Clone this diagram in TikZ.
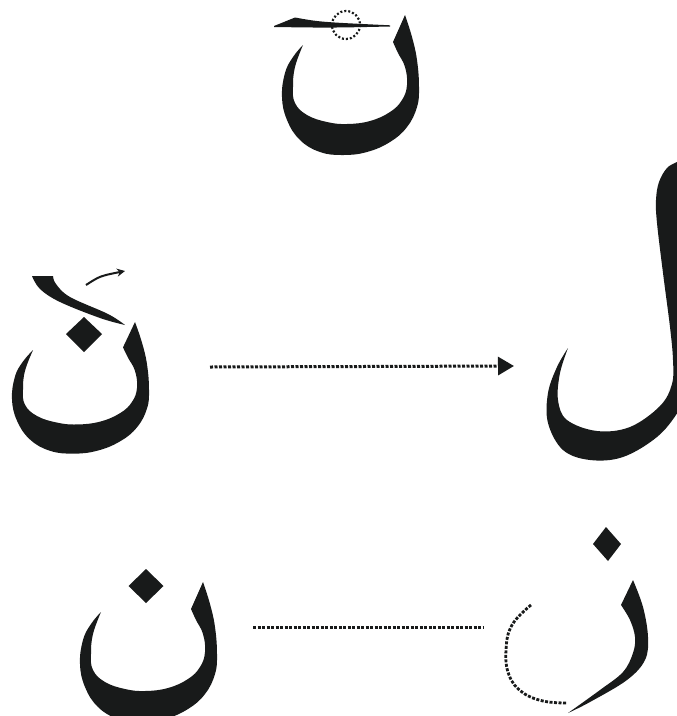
\documentclass[tikz,border=0pt]{standalone}
\usetikzlibrary{arrows.meta}
\definecolor{ink}{RGB}{24,26,26}
\tikzset{
  nun/.pic={
    \fill[ink] plot[smooth,tension=0.7] coordinates {(0,0)(7,22)(12,45)(14,72)(12,92)(2,112)(-15,127)(-38,137)(-62,140)(-85,137)(-105,125)(-118,105)(-123,82)(-120,58)(-112,42)(-102,30)}
      -- plot[smooth,tension=0.7] coordinates {(-102,30)(-110,52)(-112,72)(-110,88)(-98,100)(-78,107)(-58,109)(-35,106)(-15,97)(-3,85)(2,70)(0,52)(-7,38)(-12,27)} -- cycle;
  },
  dotline/.style={ink,line width=3pt,dash pattern=on 3pt off 1.5pt},
  dotcirc/.style={ink,line width=2.2pt,dash pattern=on 2pt off 2pt}
}
\begin{document}
\begin{tikzpicture}[x=1pt,y=-1pt]
\useasboundingbox (0,0) rectangle (677,716);
\clip (0,0) rectangle (677,716);
% top nun
\pic at (405,15) {nun};
\fill[ink] (274,26) -- (295,17.5) .. controls (320,22) .. (390,25.3) -- (390,26.5) .. controls (330,27.8) .. (274,27) -- cycle;
\draw[dotcirc] (346,25) circle[radius=14];
% middle nun
\pic[yscale=0.94] at (135,322) {nun};
\fill[ink] plot[smooth,tension=0.6] coordinates {(32,276)(53,276)}
  -- plot[smooth,tension=0.6] coordinates {(53,276)(56,284)(70,297)(108,314)(125,325)}
  -- plot[smooth,tension=0.6] coordinates {(125,325)(100,318)(60,302)(40,289)(32,276)} -- cycle;
\coordinate (as) at (86,285);
\coordinate (ae) at (125,271);
\draw[ink,line width=2pt,-{Stealth[length=8pt,width=8pt]}] (as) .. controls (100,276) .. (ae);
\fill[ink] (66,334) -- (84,317) -- (102,334) -- (84,352) -- cycle;
% lam
\fill[ink] plot[smooth,tension=0.6] coordinates {(568,348)(557,367)(548,393)(548,423)(563,450)(590,460)(623,457)(657,437)(678,412)(692,385)}
  -- (705,385) -- (705,150)
  -- plot[smooth,tension=0.6] coordinates {(688,156)(677,162)(667,168)(659,182)(656,200)(657,223)(663,273)(670,327)(673,360)(672,384)(660,406)(630,427)(597,431)(567,420)(558,400)(560,373)(568,348)} -- cycle;
% dotted arrow
\coordinate (d1) at (210,367);
\coordinate (d2) at (514,366);
\draw[dotline,-{Triangle[length=16pt,width=18pt]}] (d1) -- (d2);
% bottom nun
\pic at (203,582) {nun};
\fill[ink] (128.5,586) -- (146,569) -- (163.5,586) -- (146,603) -- cycle;
% bottom dotted line
\coordinate (b1) at (253,627);
\coordinate (b2) at (484,627);
\draw[dotline] (b1) -- (b2);
% zay
\fill[ink] (593,544) -- (606,527) -- (621,544) -- (608,561) -- cycle;
\fill[ink] plot[smooth,tension=0.6] coordinates {(633,580)(643,607)(648,637)(645,660)(627,680)(590,702)(568,713)}
  -- plot[smooth,tension=0.6] coordinates {(568,713)(600,690)(623,672)(633,653)(635,637)(630,620)(621,605)} -- cycle;
\draw[dotline,line width=2.8pt] plot[smooth,tension=0.7] coordinates {(531,605)(512,625)(506,650)(509,675)(522,692)(543,701)(567,703)};
\end{tikzpicture}
\end{document}
